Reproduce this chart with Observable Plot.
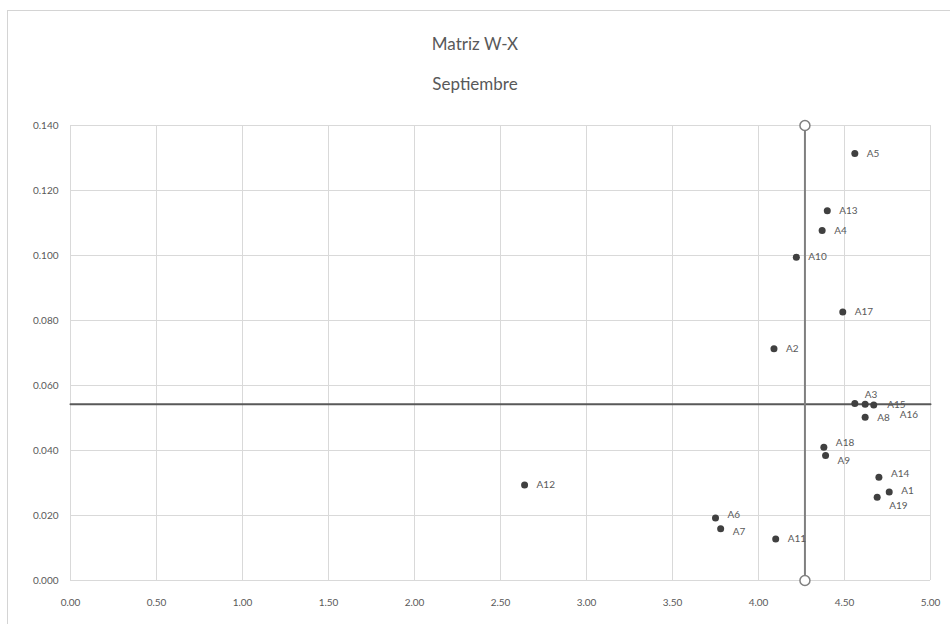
<!DOCTYPE html>
<html>
<head>
<meta charset="utf-8">
<script src="https://cdn.jsdelivr.net/npm/d3@7"></script>
<script src="https://cdn.jsdelivr.net/npm/@observablehq/plot@0.6"></script>
<style>
  html, body { margin: 0; padding: 0; background: #ffffff; }
  #wrap { position: relative; width: 950px; height: 624px; overflow: hidden; font-family: Lato, "Open Sans", sans-serif; }
  #frame { position: absolute; left: 7px; top: 10px; width: 945px; height: 620px; border: 1px solid #d4d4d4; box-sizing: border-box; }
  #title { position: absolute; top: 0; left: 0; width: 950px; height: 100px; text-align: center; color: #595959; font-size: 17px; }
  #title .t1 { position: absolute; top: 33px; width: 100%; }
  #title .t2 { position: absolute; top: 73px; width: 100%; }
  #chart { position: absolute; top: 100px; left: 0; }
</style>
</head>
<body>
<div id="wrap">
  <div id="frame"></div>
  <div id="title"><div class="t1">Matriz W-X</div><div class="t2">Septiembre</div></div>
  <div id="chart"></div>
</div>
<script>
const names   = ["A1","A2","A3","A4","A5","A6","A7","A8","A9","A10","A11","A12","A13","A14","A15","A16","A17","A18","A19"];
const wValues = [4.76, 4.09, 4.56, 4.37, 4.56, 3.75, 3.78, 4.62, 4.39, 4.22, 4.10, 2.64, 4.40, 4.70, 4.62, 4.67, 4.49, 4.38, 4.69];
const xValues = [0.0272, 0.0713, 0.0545, 0.1077, 0.1314, 0.0192, 0.0159, 0.0502, 0.0385, 0.0995, 0.0128, 0.0294, 0.1138, 0.0318, 0.0542, 0.0540, 0.0826, 0.0410, 0.0256];
const avgW = 4.27;
const avgX = 0.0542;
const xTicks = [0, 0.5, 1, 1.5, 2, 2.5, 3, 3.5, 4, 4.5, 5];
const yTicks = [0, 0.02, 0.04, 0.06, 0.08, 0.10, 0.12, 0.14];

const points = names.map((n, i) => ({name: n, w: wValues[i], x: xValues[i]}));
const vLine = [{w: avgW, x: 0}, {w: avgW, x: 0.14}];
const hLine = [{w: 0, x: avgX}, {w: 5, x: avgX}];

// label nudges to reduce overlap of crowded labels
const nudge = {A3: [-2, -9], A15: [10, 0], A16: [14, 10], A18: [0, -4], A9: [0, 5], A14: [0, -3], A1: [0, -1], A19: [0, 8], A6: [0, -3], A7: [0, 3]};
const labelDx = d => 12 + (nudge[d.name] ? nudge[d.name][0] : 0);
const labelDy = d => (nudge[d.name] ? nudge[d.name][1] : 0);

const chart = Plot.plot({
  width: 950,
  height: 524,
  marginTop: 25,
  marginBottom: 44,
  marginLeft: 70,
  marginRight: 20,
  style: {fontFamily: "Lato, 'Open Sans', sans-serif", fontSize: "10px", color: "#595959", background: "transparent"},
  x: {domain: [0, 5], label: null},
  y: {domain: [0, 0.14], label: null},
  marks: [
    Plot.gridX(xTicks, {stroke: "#d9d9d9", strokeOpacity: 1, strokeWidth: 1}),
    Plot.gridY(yTicks, {stroke: "#d9d9d9", strokeOpacity: 1, strokeWidth: 1}),
    Plot.axisX({ticks: xTicks, tickFormat: d3.format(".2f"), tickSize: 0, tickPadding: 18, fill: "#595959", label: null}),
    Plot.axisY({ticks: yTicks, tickFormat: d3.format(".3f"), tickSize: 0, tickPadding: 12, fill: "#595959", label: null}),
    Plot.line(hLine, {x: "w", y: "x", stroke: "#595959", strokeWidth: 2}),
    Plot.line(vLine, {x: "w", y: "x", stroke: "#7f7f7f", strokeWidth: 2}),
    Plot.dot(vLine, {x: "w", y: "x", r: 5, fill: "white", stroke: "#7f7f7f", strokeWidth: 1.5}),
    Plot.dot(points, {x: "w", y: "x", r: 3.5, fill: "#404040"}),
    ...points.map(p => Plot.text([p], {x: "w", y: "x", text: "name", dx: labelDx(p), dy: labelDy(p), textAnchor: "start", fill: "#595959", fontSize: 10}))
  ]
});
document.getElementById("chart").appendChild(chart);
</script>
</body>
</html>
